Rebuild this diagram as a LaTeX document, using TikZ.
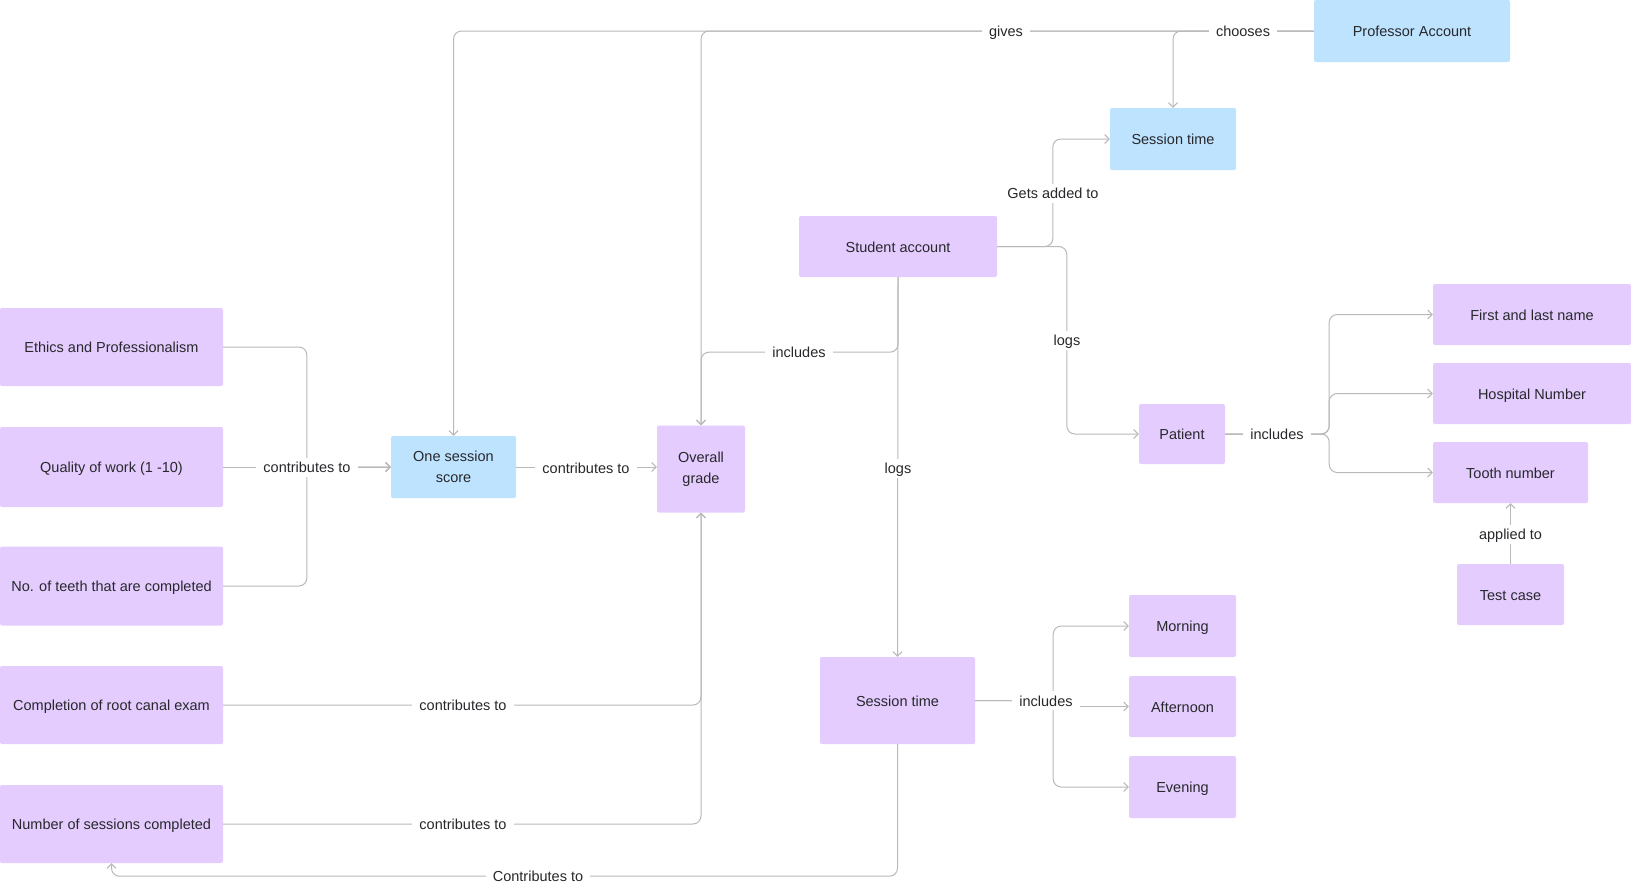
\documentclass[tikz,border=0pt]{standalone}
\usepackage{fontspec}
\setmainfont{Liberation Sans}
\usetikzlibrary{arrows.meta,calc}
\definecolor{purp}{RGB}{228,204,255}
\definecolor{bluef}{RGB}{189,227,255}
\definecolor{lin}{RGB}{185,185,185}
\definecolor{txt}{RGB}{40,40,44}
\newcommand\dfont{\fontsize{14.5}{21}\selectfont}
\tikzset{
  box/.style={rectangle, rounded corners=2pt, text=txt, font=\dfont, inner sep=0pt, align=center},
  one/.style={text height=12pt, text depth=1pt},
  pbox/.style={box, fill=purp},
  bbox/.style={box, fill=bluef},
  conn/.style={draw=lin, line width=1pt, rounded corners=8pt},
  arr/.style={conn, -{Straight Barb[length=4.5pt,width=9pt,line width=1pt]}},
  lab/.style={fill=white, text=txt, font=\dfont, inner xsep=7pt, inner ysep=3pt, one}
}
\begin{document}
\begin{tikzpicture}[x=1pt,y=-1pt]
\fill[white] (0,0) rectangle (1631,889);
\useasboundingbox (0,0) rectangle (1631,889);
% nodes
\node[bbox, one, minimum width=196pt, minimum height=62pt] (prof) at (1412,31) {Professor Account};
\node[bbox, one, minimum width=126pt, minimum height=62pt] (st1) at (1173,139) {Session time};
\node[pbox, one, minimum width=198pt, minimum height=61pt] (stu) at (898,246.5) {Student account};
\node[pbox, one, minimum width=223pt, minimum height=78pt] (eth) at (111.5,347) {Ethics and Professionalism};
\node[pbox, one, minimum width=223pt, minimum height=80pt] (qual) at (111.5,467) {Quality of work (1 -10)};
\node[pbox, one, minimum width=223pt, minimum height=79pt] (teeth) at (111.5,586) {No. of teeth that are completed};
\node[pbox, one, minimum width=223pt, minimum height=78pt] (rct) at (111.5,705) {Completion of root canal exam};
\node[pbox, one, minimum width=223pt, minimum height=78pt] (nsess) at (111.5,824) {Number of sessions completed};
\node[bbox, minimum width=125pt, minimum height=62pt] (oss) at (453.5,467) {One session\\score};
\node[pbox, minimum width=88pt, minimum height=87pt] (og) at (701,469) {Overall\\grade};
\node[pbox, one, minimum width=155pt, minimum height=87pt] (st2) at (897.5,700.5) {Session time};
\node[pbox, one, minimum width=107pt, minimum height=62pt] (morn) at (1182.5,626) {Morning};
\node[pbox, one, minimum width=107pt, minimum height=61pt] (aft) at (1182.5,706.5) {Afternoon};
\node[pbox, one, minimum width=107pt, minimum height=62pt] (eve) at (1182.5,787) {Evening};
\node[pbox, one, minimum width=86pt, minimum height=60pt] (pat) at (1182,434) {Patient};
\node[pbox, one, minimum width=198pt, minimum height=61pt] (fln) at (1532,314.5) {First and last name};
\node[pbox, one, minimum width=198pt, minimum height=61pt] (hosp) at (1532,393.5) {Hospital Number};
\node[pbox, one, minimum width=155pt, minimum height=61pt] (tooth) at (1510.5,472.5) {Tooth number};
\node[pbox, one, minimum width=107pt, minimum height=61pt] (test) at (1510.5,594.5) {Test case};
% connectors
\draw[arr] (prof.west) -- (st1.north |- prof.west) -- (st1.north);
\draw[arr] (prof.west) -- (og.north |- prof.west) -- (og.north);
\draw[arr] (prof.west) -- (oss.north |- prof.west) -- (oss.north);
\draw[arr] (stu.south) -- (st2.north);
\draw[arr] (stu.south) -- ++(0,75) -| (og.north);
\draw[arr] (stu.east) -| ($(st1.west)+(-57,0)$) -- (st1.west);
\draw[arr] (stu.east) -| ($(pat.west)+(-72,0)$) -- (pat.west);
\draw[arr] (pat.east) -- ++(104,0) |- (fln.west);
\draw[arr] (pat.east) -- ++(104,0) |- (hosp.west);
\draw[arr] (pat.east) -- ++(104,0) |- (tooth.west);
\draw[arr] (test.north) -- (tooth.south);
\draw[arr] (eth.east) -| ($(oss.west)+(-84,0)$) -- (oss.west);
\draw[arr] (qual.east) -- (oss.west);
\draw[arr] (teeth.east) -| ($(oss.west)+(-84,0)$) -- (oss.west);
\draw[arr] (oss.east) -- (og.west |- oss.east);
\draw[arr] (rct.east) -| (og.south);
\draw[arr] (nsess.east) -| (og.south);
\draw[arr] (st2.south) -- ++(0,132) -| (nsess.south);
\draw[arr] (st2.east) -- ++(78,0) |- (morn.west);
\draw[arr] (st2.east) -- ++(78,0) |- (eve.west);
\draw[arr, sharp corners] (st2.east) -- ++(78,0) |- (aft.west);
% labels
\node[lab] (l1) at (1243,31) {chooses};
\node[lab] (l2) at (1006,31) {gives};
\node[lab] (l3) at (799,352) {includes};
\node[lab] (l4) at (898,468) {logs};
\node[lab] (l5) at (1053,193) {Gets added to};
\node[lab] (l6) at (1067,340) {logs};
\node[lab] (l7) at (1277,434) {includes};
\node[lab] (l8) at (1510.5,534) {applied to};
\node[lab] (l9) at (307,467) {contributes to};
\node[lab] (l10) at (586,468) {contributes to};
\node[lab] (l11) at (463,705) {contributes to};
\node[lab] (l12) at (463,824) {contributes to};
\node[lab] (l13) at (538,876) {Contributes to};
\node[lab] (l14) at (1046,700.5) {includes};
\end{tikzpicture}
\end{document}
